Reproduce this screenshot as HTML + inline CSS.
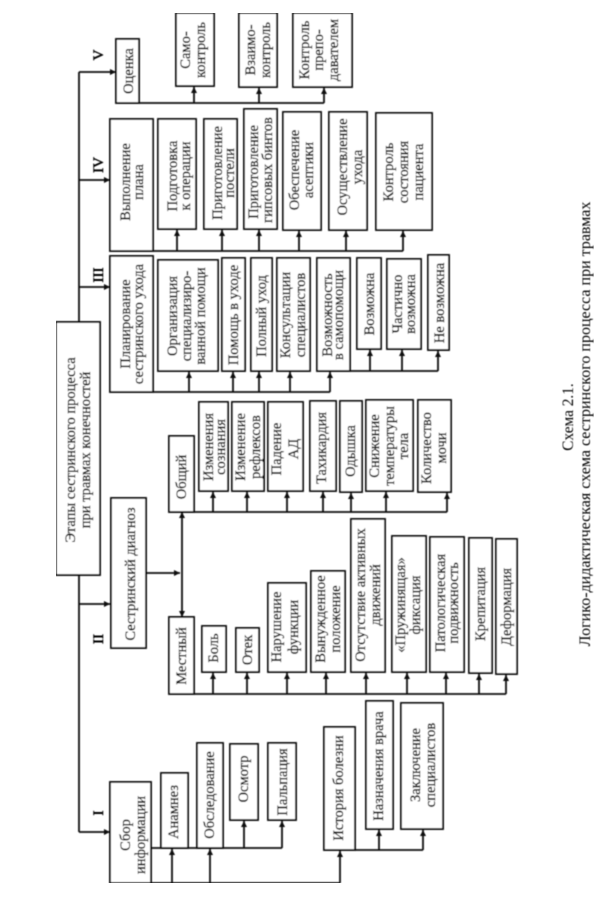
<!DOCTYPE html>
<html lang="ru"><head><meta charset="utf-8"><title>Схема 2.1</title>
<style>
html,body{margin:0;padding:0;background:#fff}
svg{display:block}
text{font-family:"Liberation Serif","DejaVu Serif",serif;font-size:14.5px;fill:#000;text-anchor:middle;stroke:#000;stroke-width:0.3}
.b rect{fill:#fff;stroke:#111;stroke-width:1.9}
.l path{fill:none;stroke:#111;stroke-width:1.8}
.a path{fill:none;stroke:#111;stroke-width:1.8;marker-end:url(#m)}
.n{font-size:15px;stroke-width:0.5}
</style></head><body>
<svg width="605" height="909" viewBox="0 0 605 909" xmlns="http://www.w3.org/2000/svg">
<defs>
<marker id="m" markerUnits="userSpaceOnUse" markerWidth="7" markerHeight="7" refX="6" refY="3" orient="auto"><path d="M0 0L6 3L0 6z" fill="#111" stroke="none"/></marker>
<filter id="f" x="0" y="0" width="100%" height="100%"><feGaussianBlur stdDeviation="0.4"/></filter>
</defs>
<rect width="605" height="909" fill="#fff"/>
<g filter="url(#f)">
<g class="b">
<rect x="116" y="39" width="23" height="64"/>
<rect x="176" y="13" width="38" height="73"/>
<rect x="239" y="13" width="38" height="74"/>
<rect x="293" y="13" width="59" height="74"/>
<rect x="110" y="119" width="43" height="132"/>
<rect x="158" y="119" width="38" height="110"/>
<rect x="204" y="119" width="33" height="110"/>
<rect x="244" y="109" width="33" height="120"/>
<rect x="283" y="112" width="38" height="118"/>
<rect x="329" y="112" width="38" height="118"/>
<rect x="376" y="113" width="56" height="117"/>
<rect x="110" y="256" width="43" height="136"/>
<rect x="158" y="260" width="60" height="111"/>
<rect x="222" y="258" width="23" height="113"/>
<rect x="251" y="258" width="21" height="113"/>
<rect x="277" y="258" width="33" height="113"/>
<rect x="317" y="258" width="33" height="113"/>
<rect x="357" y="258" width="24" height="91"/>
<rect x="387" y="259" width="34" height="90"/>
<rect x="428" y="255" width="21" height="95"/>
<rect x="56" y="322" width="44" height="253"/>
<rect x="111" y="498" width="35" height="150"/>
<rect x="169" y="436" width="25" height="76"/>
<rect x="199" y="402" width="29" height="89"/>
<rect x="232" y="402" width="32" height="89"/>
<rect x="268" y="402" width="35" height="89"/>
<rect x="310" y="401" width="26" height="90"/>
<rect x="340" y="401" width="22" height="91"/>
<rect x="366" y="400" width="47" height="91"/>
<rect x="418" y="400" width="33" height="92"/>
<rect x="169" y="617" width="25" height="77"/>
<rect x="202" y="626" width="24" height="46"/>
<rect x="236" y="628" width="23" height="44"/>
<rect x="268" y="583" width="38" height="89"/>
<rect x="311" y="571" width="34" height="101"/>
<rect x="351" y="519" width="34" height="153"/>
<rect x="392" y="536" width="34" height="136"/>
<rect x="430" y="537" width="34" height="135"/>
<rect x="469" y="538" width="23" height="135"/>
<rect x="496" y="539" width="21" height="135"/>
<rect x="110" y="782" width="41" height="101"/>
<rect x="161" y="773" width="27" height="75"/>
<rect x="197" y="743" width="26" height="105"/>
<rect x="230" y="744" width="28" height="76"/>
<rect x="268" y="743" width="28" height="77"/>
<rect x="324" y="727" width="31" height="123"/>
<rect x="366" y="701" width="27" height="128"/>
<rect x="401" y="703" width="42" height="126"/>
</g>
<g class="l"><path d="M79 72V322M79 575V832"/>
<path d="M139 103H324"/><path d="M153 251H403"/><path d="M153 392H330"/><path d="M350 371H438"/>
<path d="M194 512H447"/><path d="M194 694H506"/><path d="M151 848H282"/><path d="M151 883H340"/><path d="M355 850H423"/></g>
<g class="a">
<path d="M79 72H116"/><path d="M79 180H110"/><path d="M79 287H110"/><path d="M79 604H110"/><path d="M79 832H110"/>
<path d="M146 573H180"/><path d="M182 564V512"/><path d="M182 564V617"/>
<path d="M194 103V87"/><path d="M259 103V88"/><path d="M324 103V88"/>
<path d="M177 251V230"/><path d="M222 251V230"/><path d="M259 251V230"/><path d="M299 251V231"/><path d="M346 251V231"/><path d="M403 251V231"/>
<path d="M189 392V372"/><path d="M233 392V372"/><path d="M259 392V372"/><path d="M290 392V372"/><path d="M330 392V372"/>
<path d="M370 371V350"/><path d="M402 371V350"/><path d="M438 371V351"/>
<path d="M213 512V492"/><path d="M247 512V492"/><path d="M287 512V492"/><path d="M323 512V492"/><path d="M351 512V493"/><path d="M386 512V492"/><path d="M447 512V493"/>
<path d="M213 694V673"/><path d="M247 694V673"/><path d="M287 694V673"/><path d="M326 694V673"/><path d="M366 694V673"/><path d="M407 694V673"/><path d="M446 694V673"/><path d="M479 694V674"/><path d="M506 694V675"/>
<path d="M244 848V821"/><path d="M282 848V821"/>
<path d="M172 883V849"/><path d="M210 883V849"/><path d="M340 883V851"/>
<path d="M379 850V830"/><path d="M423 850V830"/>
</g>
<g>
<text class="n" transform="translate(103,55) rotate(-90)">V</text>
<text class="n" transform="translate(103,165) rotate(-90)">IV</text>
<text class="n" transform="translate(103,275) rotate(-90)">III</text>
<text class="n" transform="translate(103,639) rotate(-90)">II</text>
<text class="n" transform="translate(103,813) rotate(-90)">I</text>

<text transform="translate(133,71) rotate(-90)">Оценка</text>
<text transform="translate(190,50) rotate(-90)">Само-</text>
<text transform="translate(205,50) rotate(-90)">контроль</text>
<text transform="translate(255,50) rotate(-90)">Взаимо-</text>
<text transform="translate(270,50) rotate(-90)">контроль</text>
<text transform="translate(309,50) rotate(-90)">Контроль</text>
<text transform="translate(323,50) rotate(-90)">препо-</text>
<text transform="translate(338,50) rotate(-90)">давателем</text>

<text transform="translate(130,182) rotate(-90)">Выполнение</text>
<text transform="translate(143,182) rotate(-90)">плана</text>
<text transform="translate(177,176) rotate(-90)">Подготовка</text>
<text transform="translate(190,176) rotate(-90)">к операции</text>
<text transform="translate(222,173) rotate(-90)">Приготовление</text>
<text transform="translate(234,173) rotate(-90)">постели</text>
<text transform="translate(258,172) rotate(-90)">Приготовление</text>
<text transform="translate(272,170) rotate(-90)">гипсовых бинтов</text>
<text transform="translate(299,170) rotate(-90)">Обеспечение</text>
<text transform="translate(313,170) rotate(-90)">асептики</text>
<text transform="translate(347,167) rotate(-90)">Осуществление</text>
<text transform="translate(362,167) rotate(-90)">ухода</text>
<text transform="translate(393,172) rotate(-90)">Контроль</text>
<text transform="translate(408,172) rotate(-90)">состояния</text>
<text transform="translate(423,172) rotate(-90)">пациента</text>

<text transform="translate(130,324) rotate(-90)">Планирование</text>
<text transform="translate(143,324) rotate(-90)">сестринского ухода</text>
<text transform="translate(177,316) rotate(-90)">Организация</text>
<text transform="translate(191,316) rotate(-90)">специализиро-</text>
<text transform="translate(205,316) rotate(-90)">ванной помощи</text>
<text transform="translate(238,315) rotate(-90)">Помощь в уходе</text>
<text transform="translate(266,316) rotate(-90)">Полный уход</text>
<text transform="translate(290,315) rotate(-90)">Консультации</text>
<text transform="translate(305,315) rotate(-90)">специалистов</text>
<text transform="translate(332,315) rotate(-90)">Возможность</text>
<text transform="translate(343,315) rotate(-90)">в самопомощи</text>
<text transform="translate(374,304) rotate(-90)">Возможна</text>
<text transform="translate(402,304) rotate(-90)">Частично</text>
<text transform="translate(415,304) rotate(-90)">возможна</text>
<text transform="translate(444,303) rotate(-90)">Не возможна</text>

<text transform="translate(75,450) rotate(-90)">Этапы сестринского процесса</text>
<text transform="translate(90,450) rotate(-90)">при травмах конечностей</text>
<text transform="translate(135,574) rotate(-90)">Сестринский диагноз</text>

<text transform="translate(186,477) rotate(-90)">Общий</text>
<text transform="translate(213,447) rotate(-90)">Изменения</text>
<text transform="translate(225,447) rotate(-90)">сознания</text>
<text transform="translate(245,447) rotate(-90)">Изменение</text>
<text transform="translate(260,447) rotate(-90)">рефлексов</text>
<text transform="translate(281,449) rotate(-90)">Падение</text>
<text transform="translate(298,449) rotate(-90)">АД</text>
<text transform="translate(326,448) rotate(-90)">Тахикардия</text>
<text transform="translate(355,451) rotate(-90)">Одышка</text>
<text transform="translate(379,446) rotate(-90)">Снижение</text>
<text transform="translate(394,446) rotate(-90)">температуры</text>
<text transform="translate(408,446) rotate(-90)">тела</text>
<text transform="translate(431,448) rotate(-90)">Количество</text>
<text transform="translate(446,448) rotate(-90)">мочи</text>

<text transform="translate(186,656) rotate(-90)">Местный</text>
<text transform="translate(218,648) rotate(-90)">Боль</text>
<text transform="translate(252,650) rotate(-90)">Отек</text>
<text transform="translate(281,627) rotate(-90)">Нарушение</text>
<text transform="translate(298,627) rotate(-90)">функции</text>
<text transform="translate(325,619) rotate(-90)">Вынужденное</text>
<text transform="translate(340,619) rotate(-90)">положение</text>
<text transform="translate(365,595) rotate(-90)">Отсутствие активных</text>
<text transform="translate(380,595) rotate(-90)">движений</text>
<text transform="translate(405,605) rotate(-90)">«Пружинящая»</text>
<text transform="translate(420,605) rotate(-90)">фиксация</text>
<text transform="translate(445,603) rotate(-90)">Патологическая</text>
<text transform="translate(458,603) rotate(-90)">подвижность</text>
<text transform="translate(485,604) rotate(-90)">Крепитация</text>
<text transform="translate(511,607) rotate(-90)">Деформация</text>

<text transform="translate(130,835) rotate(-90)">Сбор</text>
<text transform="translate(145,835) rotate(-90)">информации</text>
<text transform="translate(178,812) rotate(-90)">Анамнез</text>
<text transform="translate(214,795) rotate(-90)">Обследование</text>
<text transform="translate(248,779) rotate(-90)">Осмотр</text>
<text transform="translate(287,782) rotate(-90)">Пальпация</text>
<text transform="translate(343,788) rotate(-90)">История болезни</text>
<text transform="translate(383,766) rotate(-90)">Назначения врача</text>
<text transform="translate(420,765) rotate(-90)">Заключение</text>
<text transform="translate(435,765) rotate(-90)">специалистов</text>

<text transform="translate(573,417) rotate(-90)" style="font-size:15.3px;stroke:none">Схема 2.1.</text>
<text transform="translate(590,424) rotate(-90)" style="font-size:16px;stroke:none">Логико-дидактическая схема сестринского процесса при травмах</text>
</g>
</g>
</svg>
</body></html>
